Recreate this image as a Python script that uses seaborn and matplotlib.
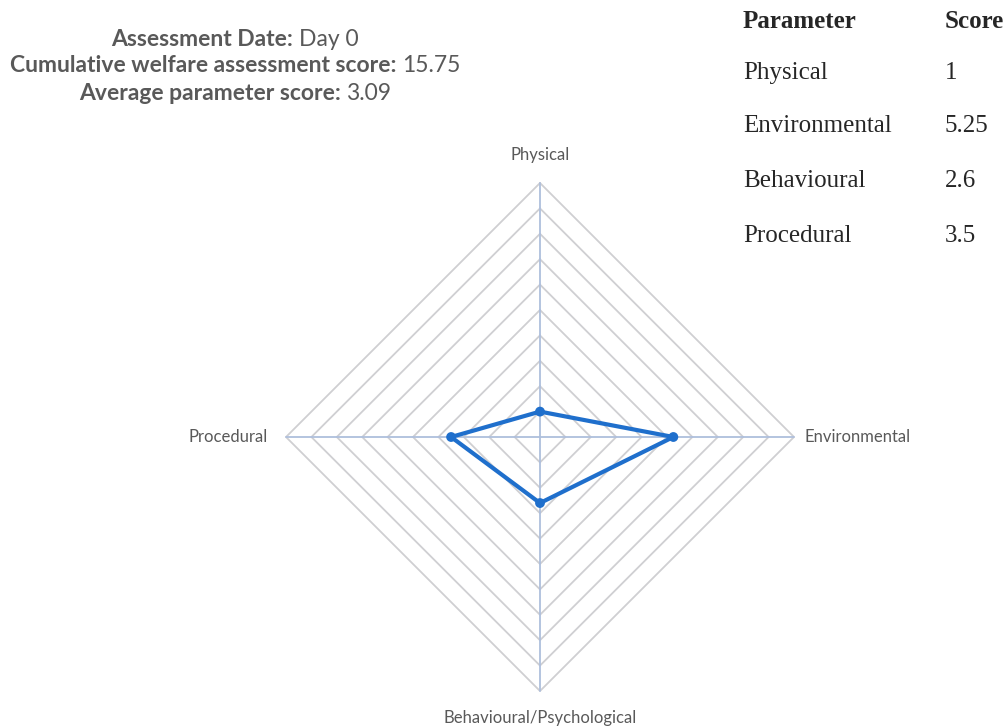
import numpy as np
import pandas as pd
import matplotlib
matplotlib.use("Agg")
import matplotlib.pyplot as plt
import seaborn as sns

# data
categories = ["Physical", "Environmental", "Behavioural/Psychological", "Procedural"]
scores = [1, 5.25, 2.6, 3.5]
angles_deg = [90, 0, -90, 180]
rings = [1, 2, 3, 4, 5, 6, 7, 8, 9, 10]

table_params = ["Physical", "Environmental", "Behavioural", "Procedural"]
table_scores = ["1", "5.25", "2.6", "3.5"]

header_bold = ["Assessment Date:", "Cumulative welfare assessment score:", "Average parameter score:"]
header_vals = ["Day 0", "15.75", "3.09"]

sns.set_style("white")
plt.rcParams["font.family"] = ["Lato", "DejaVu Sans"]

fig = plt.figure(figsize=(10.06, 7.26), dpi=100)
ax = fig.add_axes([0, 0, 1, 1])
px = 10 / 254.0
ax.set_xlim(-540 * px, (1006 - 540) * px)
ax.set_ylim(-(726 - 437) * px, 437 * px)
ax.axis("off")

ang = np.deg2rad(angles_deg)

# diamond grid rings
for r in rings:
    ring = pd.DataFrame({"x": list(r * np.cos(ang)) + [r * np.cos(ang[0])],
                         "y": list(r * np.sin(ang)) + [r * np.sin(ang[0])]})
    ax.plot(ring["x"], ring["y"], color="#cfcfd2", lw=1.3, zorder=1)

# spokes
rmax = max(rings)
for a in ang:
    ax.plot([0, rmax * np.cos(a)], [0, rmax * np.sin(a)], color="#aebfdc", lw=1.3, zorder=2)

# data polygon
df = pd.DataFrame({"cat": categories, "score": scores, "ang": ang})
df["x"] = df["score"] * np.cos(df["ang"])
df["y"] = df["score"] * np.sin(df["ang"])
closed = pd.concat([df, df.iloc[[0]]], ignore_index=True)
sns.lineplot(data=closed, x="x", y="y", sort=False, estimator=None,
             color="#1f6fcc", lw=3, ax=ax, zorder=3)
sns.scatterplot(data=df, x="x", y="y", color="#1f6fcc", s=50,
                edgecolor="none", ax=ax, zorder=4)
ax.set_xlabel("")
ax.set_ylabel("")

# axis labels
lab_kw = dict(fontsize=12, color="#595959")
ax.text(0, rmax + 1.1, categories[0], ha="center", va="center", **lab_kw)
ax.text(rmax + 0.4, 0, categories[1], ha="left", va="center", **lab_kw)
ax.text(0, -rmax - 1.05, categories[2], ha="center", va="center", **lab_kw)
ax.text(-rmax - 0.7, 0, categories[3], ha="right", va="center", **lab_kw)

# header text, bold label + regular value centred together
fig.canvas.draw()
renderer = fig.canvas.get_renderer()
header_y = [40, 66, 93]
for b, v, y in zip(header_bold, header_vals, header_y):
    yy = 1 - y / 726
    t1 = fig.text(0, yy, b + " ", fontsize=16.5, fontweight="bold", color="#595959",
                  ha="left", va="center")
    t2 = fig.text(0, yy, v, fontsize=16.5, color="#595959", ha="left", va="center")
    w1 = t1.get_window_extent(renderer).width
    w2 = t2.get_window_extent(renderer).width
    x0 = 235 - (w1 + w2) / 2
    t1.set_x(x0 / 1006)
    t2.set_x((x0 + w1) / 1006)

# table
serif = ["Liberation Serif", "DejaVu Serif"]
fig.text(743 / 1006, 1 - 22 / 726, "Parameter", fontsize=18, fontweight="bold",
         family=serif, ha="left", va="center")
fig.text(945 / 1006, 1 - 22 / 726, "Score", fontsize=18, fontweight="bold",
         family=serif, ha="left", va="center")
row_y = [73, 126, 181, 236]
for p, s, y in zip(table_params, table_scores, row_y):
    fig.text(743 / 1006, 1 - y / 726, p, fontsize=18, family=serif, ha="left", va="center")
    fig.text(945 / 1006, 1 - y / 726, s, fontsize=18, family=serif, ha="left", va="center")

fig.savefig("out.png", dpi=100)
